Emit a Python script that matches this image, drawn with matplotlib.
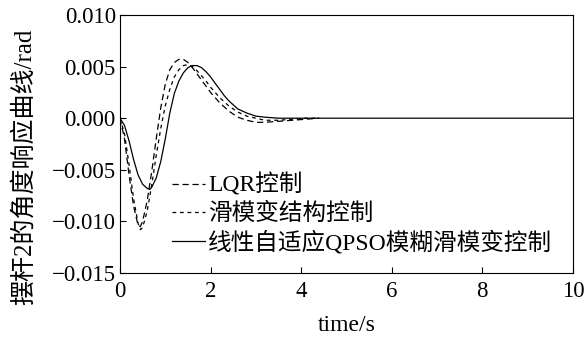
import matplotlib
matplotlib.use("Agg")
import matplotlib.pyplot as plt

plt.rcParams['font.family'] = ['Liberation Serif', 'Noto Sans CJK SC', 'DejaVu Sans']
plt.rcParams['axes.unicode_minus'] = True

# LQR control (long dash)
t_lqr = [0, 0.1, 0.2, 0.3, 0.4, 0.45, 0.5, 0.6, 0.7, 0.8, 0.9, 1.0, 1.1, 1.2, 1.3,
         1.4, 1.5, 1.6, 1.7, 1.8, 1.9, 2.0, 2.2, 2.4, 2.6, 2.8, 3.0, 3.2, 3.5, 3.8, 4.1, 4.4]
y_lqr = [0, -0.0020, -0.0055, -0.0085, -0.0104, -0.0105, -0.0100, -0.0080, -0.0052,
         -0.0020, 0.0010, 0.0033, 0.0047, 0.0054, 0.0057, 0.0057, 0.0054, 0.0049, 0.0043,
         0.0037, 0.0031, 0.0025, 0.0015, 0.0007, 0.0001, -0.0002, -0.0004, -0.0004,
         -0.0003, -0.0002, -0.0001, 0]

# sliding mode control (short dash)
t_smc = [0, 0.1, 0.2, 0.3, 0.4, 0.45, 0.5, 0.6, 0.7, 0.8, 0.9, 1.0, 1.1, 1.2, 1.3,
         1.4, 1.5, 1.6, 1.7, 1.8, 1.9, 2.0, 2.2, 2.4, 2.6, 2.8, 3.0, 3.2, 3.5, 3.8, 4.1, 4.4]
y_smc = [0, -0.0015, -0.0045, -0.0078, -0.0102, -0.0108, -0.0106, -0.0090, -0.0065,
         -0.0036, -0.0010, 0.0012, 0.0028, 0.0040, 0.0047, 0.0051, 0.0052, 0.0050, 0.0046,
         0.0041, 0.0036, 0.0030, 0.0020, 0.0012, 0.0006, 0.0002, 0.0000, -0.0002,
         -0.0002, -0.0001, 0, 0]

# adaptive QPSO fuzzy sliding mode (solid)
t_qpso = [0, 0.1, 0.2, 0.3, 0.4, 0.5, 0.6, 0.66, 0.7, 0.8, 0.9, 1.0, 1.1, 1.2, 1.3,
          1.4, 1.5, 1.6, 1.7, 1.8, 1.9, 2.0, 2.1, 2.2, 2.3, 2.4, 2.5, 2.6, 2.7, 2.8,
          3.0, 3.2, 3.5, 4.0, 5, 6, 7, 8, 9, 10]
y_qpso = [0, -0.0007, -0.0022, -0.0040, -0.0055, -0.0064, -0.0068, -0.0069, -0.0067,
          -0.0058, -0.0042, -0.0020, 0.0005, 0.0024, 0.0036, 0.0044, 0.0049, 0.0051,
          0.0051, 0.0049, 0.0045, 0.0040, 0.0034, 0.0028, 0.0022, 0.0017, 0.0013,
          0.0009, 0.0007, 0.0005, 0.0002, 0.0001, 0, 0, 0, 0, 0, 0, 0, 0]

labels = ['LQR控制', '滑模变结构控制', '线性自适应QPSO模糊滑模变控制']

fig = plt.figure(figsize=(5.87, 3.38), dpi=100)
ax = fig.add_axes([0.2044, 0.1923, 0.7716, 0.7633])

l1, = ax.plot(t_lqr, y_lqr, color='black', lw=0.9, label=labels[0])
l1.set_dashes([5, 3])
l2, = ax.plot(t_smc, y_smc, color='black', lw=0.9, label=labels[1])
l2.set_dashes([3, 3])
ax.plot(t_qpso, y_qpso, color='black', lw=0.9, label=labels[2])

ax.set_xlim(0, 10)
ax.set_ylim(-0.015, 0.010)
ax.set_xticks([0, 2, 4, 6, 8, 10])
ax.set_yticks([-0.015, -0.010, -0.005, 0.0, 0.005, 0.010])
ax.set_yticklabels(['−0.015', '−0.010', '−0.005', '0.000', '0.005', '0.010'])
ax.tick_params(direction='in', length=4, labelsize=16.5, width=0.8, pad=3)
ax.tick_params(axis='x', pad=6)
for s in ax.spines.values():
    s.set_linewidth(0.8)

ax.set_xlabel('time/s', fontsize=17, labelpad=9)
ax.set_ylabel('摆杆2的角度响应曲线/rad', fontsize=18)
ax.yaxis.set_label_coords(-0.185, 0.41)

ax.legend(loc='lower left', bbox_to_anchor=(0.088, 0.025), frameon=False, fontsize=17,
          handlelength=1.4, handletextpad=0.15, labelspacing=0.25, borderpad=0)

fig.savefig('out.png', dpi=100)
